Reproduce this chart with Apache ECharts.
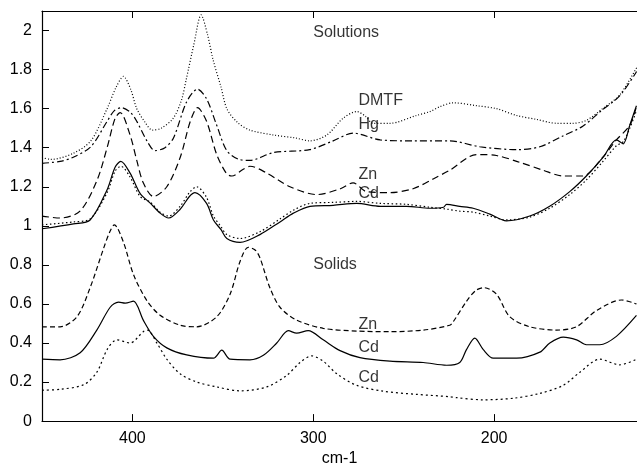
<!DOCTYPE html>
<html>
<head>
<meta charset="utf-8">
<script src="https://cdn.jsdelivr.net/npm/echarts@6/dist/echarts.min.js"></script>
<style>
html, body { margin: 0; padding: 0; background: #fff; }
#main { width: 637px; height: 472px; }
</style>
</head>
<body>
<div id="main"></div>
<script>
var chart = echarts.init(document.getElementById('main'));

// Solutions (wavenumber cm-1, absorbance)
var dmtfSol = [[450,1.35],[445,1.34],[433,1.37],[423,1.435],[414,1.60],[409,1.71],[405,1.765],[401,1.70],
[397.6,1.60],[393,1.53],[389,1.49],[384,1.50],[377.5,1.55],[373,1.64],[370,1.76],[366,1.93],[362,2.08],
[358.5,1.98],[355.4,1.85],[351,1.71],[347.8,1.60],[342,1.53],[335,1.49],[322,1.465],[310,1.45],[302,1.435],
[292.5,1.465],[283.6,1.55],[276,1.585],[271,1.56],[267,1.525],[257.6,1.525],[243,1.565],[235.5,1.585],
[230,1.61],[222.6,1.63],[209.7,1.615],[198.7,1.60],[187.6,1.565],[176.6,1.545],[165.5,1.525],[156.5,1.525],
[149,1.54],[140,1.60],[130.6,1.67],[121.2,1.81]];

var hgSol = [[450,1.32],[440,1.33],[433,1.35],[423,1.405],[414,1.535],[410,1.59],[405.9,1.605],[401,1.58],
[397.6,1.535],[392,1.435],[387.5,1.385],[382,1.40],[377.3,1.45],[370,1.635],[364,1.70],[359,1.65],
[353.4,1.515],[347.8,1.385],[341,1.34],[335,1.335],[322,1.375],[302,1.39],[289,1.435],[278,1.475],
[263,1.44],[245,1.435],[224.5,1.435],[208,1.405],[187.6,1.39],[174.7,1.405],[162,1.46],[151,1.51],
[140,1.595],[130.6,1.665],[121.2,1.79]];

var znSol = [[450,1.05],[440,1.04],[429,1.075],[419.7,1.23],[414,1.40],[409.6,1.55],[406.8,1.58],[401.3,1.465],
[397.6,1.335],[394,1.22],[388.4,1.15],[381,1.20],[373.6,1.35],[368,1.535],[364,1.605],[359,1.535],
[353.4,1.365],[347.8,1.265],[345,1.255],[338.7,1.29],[335,1.305],[325.7,1.27],[312.9,1.20],[298,1.16],
[285,1.19],[278,1.22],[270.5,1.175],[257.6,1.17],[244.8,1.19],[233.7,1.24],[224.5,1.285],[209.7,1.365],
[198.7,1.36],[185.8,1.325],[173,1.285],[162,1.255],[151,1.255],[140,1.35],[132.4,1.44],[125,1.515],[121.2,1.615]];

var cdSol = [[450,0.985],[432.6,1.01],[423.4,1.03],[414,1.185],[409.6,1.30],[406.4,1.33],[401.3,1.27],
[395.7,1.165],[390,1.115],[384.7,1.065],[380,1.04],[373.6,1.085],[368.5,1.15],[365.4,1.17],[359,1.115],
[355.2,1.03],[351,0.98],[347.8,0.935],[340.5,0.915],[329.5,0.955],[318.4,1.02],[311,1.065],[301.8,1.10],
[289,1.105],[276,1.115],[263,1.10],[248.4,1.10],[235.5,1.09],[228,1.095],[226.3,1.11],[219,1.10],
[211.6,1.09],[202.4,1.06],[193.2,1.025],[180.3,1.05],[169.3,1.10],[158.2,1.175],[149,1.255],[139.8,1.35],
[132.4,1.44],[128.7,1.42],[125,1.515],[121.3,1.615]];

var cdSol2 = [[450,1.005],[432.6,1.02],[423.4,1.035],[414,1.17],[409.6,1.28],[406.4,1.305],[401.3,1.25],
[395.7,1.15],[390,1.12],[384.7,1.07],[380,1.05],[373.6,1.10],[368.5,1.17],[364.5,1.20],[359,1.145],
[355.2,1.05],[351,0.995],[347.8,0.955],[340.5,0.935],[329.5,0.97],[318.4,1.035],[311,1.08],[301.8,1.115],
[289,1.12],[276,1.125],[263,1.115],[248.4,1.11],[235.5,1.095],[226,1.085],[219,1.075],[211.6,1.07],
[202.4,1.05],[193.2,1.03],[180.3,1.045],[169.3,1.09],[158.2,1.16],[149,1.235],[139.8,1.33],[132.4,1.41],
[128.7,1.43],[125,1.50],[121.3,1.59]];

// Solids
var znSolid = [[450,0.483],[440,0.483],[430.7,0.534],[423.4,0.683],[416,0.883],[412.5,0.97],[410,1.005],
[405,0.917],[399.4,0.75],[392,0.617],[384.7,0.542],[373.6,0.491],[364.4,0.483],[353.4,0.534],[346,0.65],
[340.5,0.817],[336,0.89],[332,0.875],[329.4,0.834],[324,0.683],[318.4,0.583],[309.2,0.517],[294.5,0.475],
[276,0.461],[257.6,0.458],[239.2,0.466],[224.5,0.491],[222.6,0.509],[215,0.617],[210,0.67],[205.5,0.683],
[198.7,0.65],[191.3,0.534],[180.3,0.483],[165.5,0.466],[154.5,0.483],[143.4,0.566],[129.6,0.62],[121.3,0.60]];

var cdSolid = [[450,0.317],[440,0.314],[428.9,0.35],[419.7,0.466],[412.3,0.583],[407.7,0.609],[404,0.604],
[399.4,0.614],[394,0.517],[388.4,0.434],[381,0.375],[370,0.339],[355.2,0.322],[350.6,0.363],[346,0.317],
[335,0.314],[327.6,0.337],[320.2,0.40],[313.8,0.463],[309.2,0.45],[302.8,0.463],[294.5,0.416],[285.2,0.361],
[274.2,0.325],[257.6,0.307],[239.2,0.30],[226.3,0.286],[219,0.30],[215.3,0.366],[210.7,0.425],[206,0.366],
[200.5,0.322],[187.6,0.322],[174.7,0.353],[169.2,0.40],[161.8,0.43],[154.4,0.416],[149,0.391],[141.6,0.391],
[132.4,0.434],[121.3,0.541]];

var cdSolid2 = [[450,0.158],[440,0.163],[427,0.186],[419.7,0.25],[414,0.366],[408.6,0.416],[401.3,0.40],
[394,0.458],[391.7,0.466],[386.5,0.40],[381,0.317],[373.6,0.242],[364.4,0.20],[353.4,0.175],[340.5,0.155],
[325.7,0.175],[314.7,0.234],[307.3,0.30],[300.9,0.334],[294.5,0.307],[287,0.242],[276,0.183],[261.3,0.153],
[243,0.137],[224.5,0.125],[220.8,0.12],[206,0.109],[189.4,0.117],[174.7,0.142],[161.8,0.183],[152.6,0.25],
[141.6,0.317],[130.6,0.288],[121.3,0.317]];

// annotations
var labelText = ['Solutions', 'DMTF', 'Hg', 'Zn', 'Cd', 'Solids', 'Zn', 'Cd', 'Cd'];
var labelX = [300, 275, 275, 275, 275, 300, 275, 275, 275];
var labelY = [1.99, 1.64, 1.52, 1.26, 1.165, 0.80, 0.495, 0.375, 0.225];

var xTicks = [400, 300, 200];
var yTicks = [0, 0.2, 0.4, 0.6, 0.8, 1, 1.2, 1.4, 1.6, 1.8, 2];

var font = 'Liberation Sans, Arial, sans-serif';

function curve(name, data, dash) {
    return {
        name: name,
        type: 'line',
        data: data,
        symbol: 'none',
        smooth: 0.3,
        silent: true,
        lineStyle: { color: '#000', width: 1.2, type: dash }
    };
}

var option = {
    animation: false,
    grid: { left: 42, right: 0, top: 11, bottom: 42 },
    xAxis: [{
        type: 'value',
        inverse: true,
        min: 121,
        max: 450,
        name: 'cm-1',
        nameLocation: 'middle',
        nameGap: 26,
        nameTextStyle: { color: '#000', fontSize: 16, fontFamily: font },
        axisLine: { lineStyle: { color: '#000', width: 1.2 } },
        axisTick: { inside: true, length: 7, customValues: xTicks, lineStyle: { color: '#000' } },
        axisLabel: { customValues: xTicks, color: '#000', fontSize: 16, fontFamily: font, margin: 9 },
        splitLine: { show: false }
    }, {
        type: 'value',
        position: 'top',
        inverse: true,
        min: 121,
        max: 450,
        axisLine: { lineStyle: { color: '#000', width: 1.2 } },
        axisTick: { inside: true, length: 7, customValues: xTicks, lineStyle: { color: '#000' } },
        axisLabel: { show: false },
        splitLine: { show: false }
    }],
    yAxis: {
        type: 'value',
        min: 0,
        max: 2.1,
        axisLine: { show: true, lineStyle: { color: '#000', width: 1.2 } },
        axisTick: { show: true, inside: true, length: 7, customValues: yTicks, lineStyle: { color: '#000' } },
        axisLabel: { customValues: yTicks, color: '#000', fontSize: 16, fontFamily: font, margin: 10 },
        splitLine: { show: false }
    },
    series: [
        curve('DMTF', dmtfSol, [1, 2]),
        curve('Hg', hgSol, [7, 3, 2, 3]),
        curve('Zn', znSol, [7, 4]),
        curve('Cd', cdSol, 'solid'),
        curve('Cd (2)', cdSol2, [1.5, 2.5]),
        curve('Zn solid', znSolid, [5, 3]),
        curve('Cd solid', cdSolid, 'solid'),
        curve('Cd solid (2)', cdSolid2, [2, 3]),
        {
            type: 'scatter',
            silent: true,
            symbolSize: 0,
            data: labelX.map(function (x, i) { return [x, labelY[i], labelText[i]]; }),
            label: {
                show: true,
                position: 'right',
                distance: 0,
                formatter: function (p) { return p.data[2]; },
                color: '#000',
                fontSize: 16,
                fontFamily: font
            }
        }
    ]
};

chart.setOption(option);
</script>
</body>
</html>
